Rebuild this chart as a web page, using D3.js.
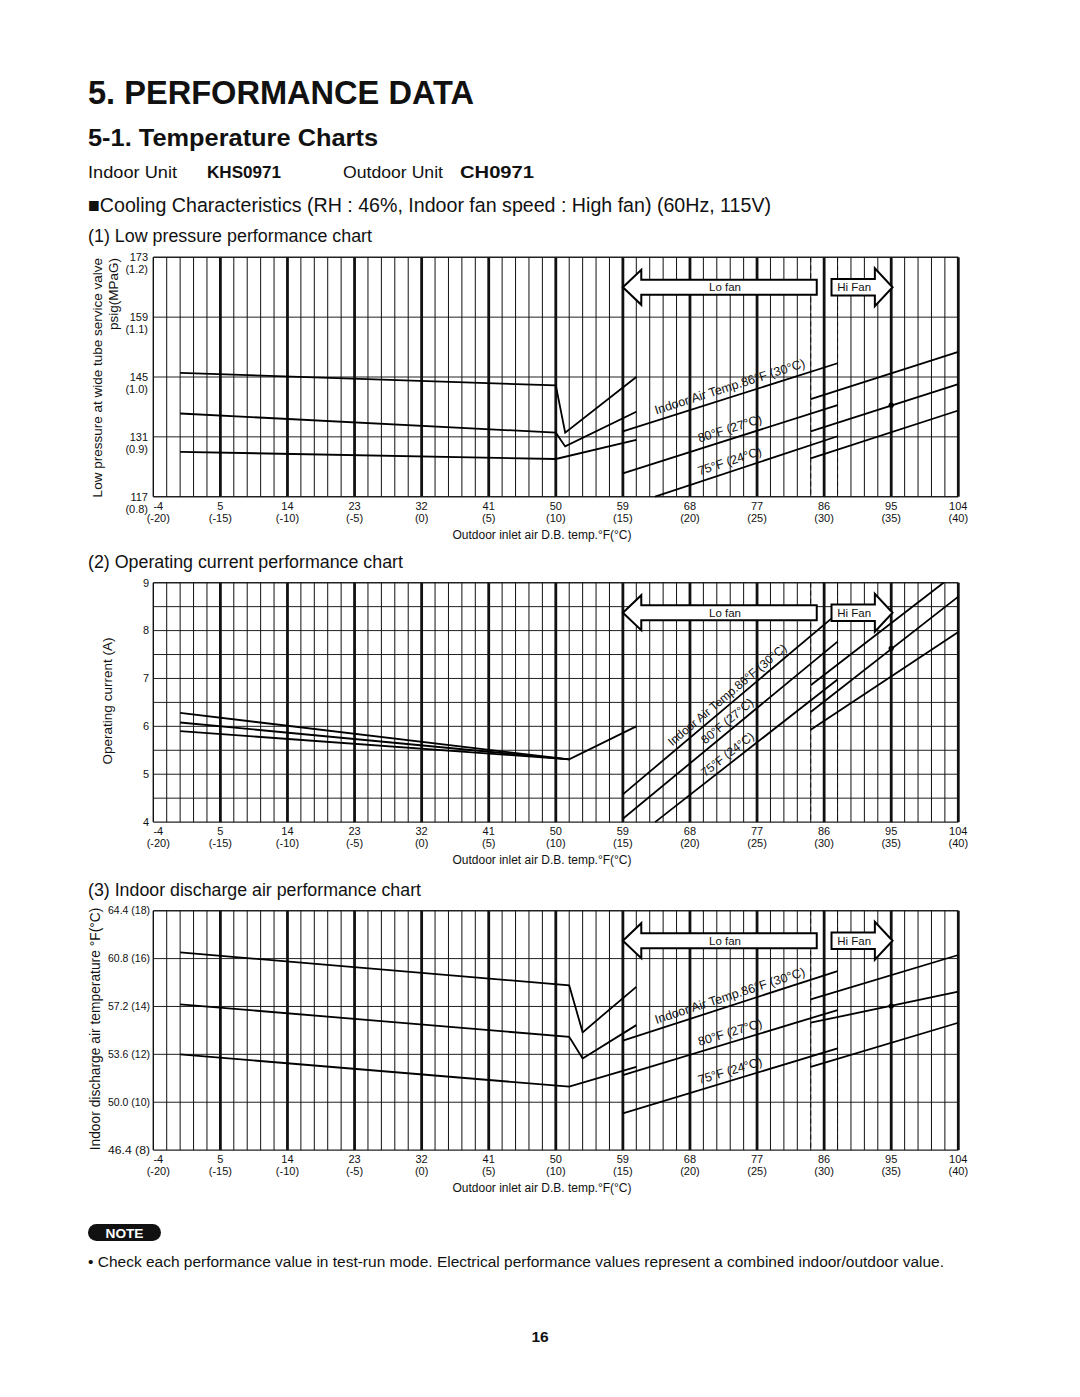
<!DOCTYPE html>
<html lang="en">
<head>
<meta charset="utf-8">
<title>Performance Data</title>
<script src="https://cdn.jsdelivr.net/npm/d3@7"></script>
<style>
  body { margin: 0; background: #fff; }
  svg text { font-family: "Liberation Sans", Arial, Helvetica, sans-serif; fill: #111; }
</style>
</head>
<body>
<div id="page"></div>
<script>
// ---- shared x axis: outdoor inlet air temp, grid in degC ----
const xTicksF = [-4, 5, 14, 23, 32, 41, 50, 59, 68, 77, 86, 95, 104];
const xTicksC = [-20, -15, -10, -5, 0, 5, 10, 15, 20, 25, 30, 35, 40];
const lineNames = ["Indoor Air Temp.86°F (30°C)", "80°F (27°C)", "75°F (24°C)"];

// ---- (1) low pressure, MPa ----
const lpTicks = [0.8, 0.9, 1.0, 1.1, 1.2];
const lpPsig = ["117", "131", "145", "159", "173"];
const lpLeft86 = [[-18, 1.007], [10, 0.986], [10.7, 0.907], [16, 1.0]];
const lpLeft80 = [[-18, 0.939], [10, 0.907], [10.7, 0.884], [16, 0.942]];
const lpLeft75 = [[-18, 0.875], [10, 0.863], [16, 0.895]];
const lpLo86 = [[15, 0.909], [31, 1.023]];
const lpLo80 = [[15, 0.839], [31, 0.953]];
const lpLo75 = [[17.4, 0.8], [31, 0.901]];
const lpHi86 = [[29, 0.963], [40, 1.042]];
const lpHi80 = [[29, 0.909], [40, 0.988]];
const lpHi75 = [[29, 0.864], [40, 0.944]];
const lpRated = [35, 0.953];

// ---- (2) operating current, A ----
const ocTicks = [4, 5, 6, 7, 8, 9];
const ocLeft86 = [[-18, 6.28], [11, 5.31], [16, 6.0]];
const ocLeft80 = [[-18, 6.08], [11, 5.31]];
const ocLeft75 = [[-18, 5.90], [11, 5.31]];
const ocLo86 = [[15, 4.58], [31, 8.36]];
const ocLo80 = [[15, 4.07], [31, 7.77]];
const ocLo75 = [[17.4, 4.0], [31, 6.98]];
const ocHi86 = [[29, 6.86], [38.9, 9.0]];
const ocHi80 = [[29, 6.30], [40, 8.71]];
const ocHi75 = [[29, 5.93], [40, 7.97]];
const ocRated = [35, 7.63];

// ---- (3) indoor discharge air, degC ----
const daTicks = [8, 10, 12, 14, 16, 18];
const daTicksF = ["46.4", "50.0", "53.6", "57.2", "60.8", "64.4"];
const daLeft86 = [[-18, 16.26], [11, 14.88], [12, 12.92], [16, 14.82]];
const daLeft80 = [[-18, 14.09], [11, 12.73], [12, 11.83], [16, 13.22]];
const daLeft75 = [[-18, 12.0], [11, 10.65], [16, 11.48]];
const daLo86 = [[15, 12.57], [31, 15.48]];
const daLo80 = [[15, 11.13], [31, 13.85]];
const daLo75 = [[15, 9.53], [31, 12.25]];
const daHi86 = [[29, 14.30], [40, 16.15]];
const daHi80 = [[29, 13.32], [40, 14.62]];
const daHi75 = [[29, 11.48], [40, 13.32]];
const daRated = [35, 14.02];

const svg = d3.select("#page").append("svg")
  .attr("width", 1080).attr("height", 1397);

// page headings
function txt(x, y, s, size, opts) {
  opts = opts || {};
  const t = svg.append("text").attr("x", x).attr("y", y)
    .attr("font-size", size).text(s);
  if (opts.bold) t.attr("font-weight", "bold");
  if (opts.len) t.attr("textLength", opts.len).attr("lengthAdjust", "spacingAndGlyphs");
  if (opts.anchor) t.attr("text-anchor", opts.anchor);
  return t;
}
txt(88, 104, "5.  PERFORMANCE DATA", 33, {bold: true, len: 386});
txt(88, 146, "5-1.  Temperature Charts", 24.5, {bold: true, len: 290});
txt(88, 178, "Indoor Unit", 17, {len: 89});
txt(207, 178, "KHS0971", 16.5, {bold: true, len: 74});
txt(343, 178, "Outdoor Unit", 17, {len: 100});
txt(460, 178, "CH0971", 16.5, {bold: true, len: 74});
txt(88, 212, "■Cooling Characteristics (RH : 46%, Indoor fan speed : High fan) (60Hz, 115V)", 20.5, {len: 683});

const x = d3.scaleLinear().domain([-20, 40]).range([153.3, 958.3]);
const PH = 239.4;

function drawChart(cfg) {
  const top = cfg.top, bottom = top + PH;
  const y = d3.scaleLinear().domain(cfg.yDomain).range([bottom, top]);
  const g = svg.append("g");

  txt(88, cfg.titleY, cfg.title, 17.5, {len: cfg.titleLen});

  // horizontal grid
  const hs = d3.range(cfg.yDomain[0], cfg.yDomain[1] + 1e-6, cfg.yStep);
  g.selectAll("line.h").data(hs).enter().append("line")
    .attr("x1", x(-20)).attr("x2", x(40))
    .attr("y1", d => y(d)).attr("y2", d => y(d))
    .attr("stroke", "#222")
    .attr("stroke-width", (d, i) => (i === 0 || i === hs.length - 1) ? 1.4 : 1);

  // vertical grid, 1 degC
  g.selectAll("line.v").data(d3.range(-20, 41)).enter().append("line")
    .attr("x1", d => x(d)).attr("x2", d => x(d))
    .attr("y1", top).attr("y2", bottom)
    .attr("stroke", "#111")
    .attr("stroke-width", d => d === -20 ? 1.4 : (d % 5 === 0 ? 2.8 : 1));

  // lo/hi fan switch band
  g.selectAll("line.d").data([29, 31]).enter().append("line")
    .attr("x1", d => x(d)).attr("x2", d => x(d))
    .attr("y1", top).attr("y2", bottom)
    .attr("stroke", "#111").attr("stroke-width", 1)
    .attr("stroke-dasharray", "5,3");

  // x tick labels
  g.selectAll("text.xf").data(xTicksF).enter().append("text")
    .attr("x", (d, i) => x(xTicksC[i]) + (i === 0 ? 5 : 0))
    .attr("y", bottom + 13).attr("text-anchor", "middle")
    .attr("font-size", 11).text(d => d);
  g.selectAll("text.xc").data(xTicksC).enter().append("text")
    .attr("x", (d, i) => x(d) + (i === 0 ? 5 : 0))
    .attr("y", bottom + 25).attr("text-anchor", "middle")
    .attr("font-size", 11).text(d => "(" + d + ")");
  g.append("text").attr("x", 542).attr("y", bottom + 42)
    .attr("text-anchor", "middle").attr("font-size", 12)
    .text("Outdoor inlet air D.B. temp.°F(°C)");

  cfg.yLabels(g, y);

  // curves
  const line = d3.line().x(d => x(d[0])).y(d => y(d[1]));
  g.selectAll("path.s").data(cfg.series).enter().append("path")
    .attr("d", line).attr("fill", "none")
    .attr("stroke", "#000").attr("stroke-width", 1.8)
    .attr("stroke-linejoin", "miter");
  g.append("circle").attr("cx", x(cfg.rated[0])).attr("cy", y(cfg.rated[1]))
    .attr("r", 2.6).attr("fill", "#000");

  // line names along the Lo fan lines
  cfg.loLines.forEach((ln, i) => {
    const a = ln[0], b = ln[ln.length - 1];
    const px = x(23.2);
    const t = (23.2 - a[0]) / (b[0] - a[0]);
    const py = y(a[1] + t * (b[1] - a[1]));
    const ang = Math.atan2(y(b[1]) - y(a[1]), x(b[0]) - x(a[0]));
    const d = cfg.labelOff;
    const cx = px + Math.sin(ang) * d, cy = py - Math.cos(ang) * d;
    g.append("text")
      .attr("transform", `translate(${cx},${cy}) rotate(${ang * 180 / Math.PI})`)
      .attr("text-anchor", "middle").attr("dy", "0.35em")
      .attr("font-size", cfg.labelSize).text(lineNames[i]);
  });

  // Lo fan / Hi Fan arrows
  const cy = top + 30;
  const lt = x(15), lh = lt + 18.4, lb = x(29.45);
  g.append("path")
    .attr("d", `M${lt},${cy} L${lh},${cy - 17.5} L${lh},${cy - 7.5} L${lb},${cy - 7.5} L${lb},${cy + 7.5} L${lh},${cy + 7.5} L${lh},${cy + 17.5} Z`)
    .attr("fill", "#fff").attr("stroke", "#000").attr("stroke-width", 2)
    .attr("stroke-linejoin", "miter");
  g.append("text").attr("x", (lh + lb) / 2 - 4).attr("y", cy).attr("dy", "0.35em")
    .attr("text-anchor", "middle").attr("font-size", 11.5).text("Lo fan");
  const hl = x(30.55), ht = x(35.1), hh = ht - 17.7;
  g.append("path")
    .attr("d", `M${hl},${cy - 8.3} L${hh},${cy - 8.3} L${hh},${cy - 19} L${ht},${cy} L${hh},${cy + 19} L${hh},${cy + 8.3} L${hl},${cy + 8.3} Z`)
    .attr("fill", "#fff").attr("stroke", "#000").attr("stroke-width", 2)
    .attr("stroke-linejoin", "miter");
  g.append("text").attr("x", (hl + hh) / 2 + 1).attr("y", cy).attr("dy", "0.35em")
    .attr("text-anchor", "middle").attr("font-size", 11.5).text("Hi Fan");
}

// (1) low pressure
drawChart({
  top: 257.3, yDomain: [0.8, 1.2], yStep: 0.1,
  title: "(1) Low pressure performance chart", titleY: 242, titleLen: 284,
  series: [lpLeft86, lpLeft80, lpLeft75, lpLo86, lpLo80, lpLo75, lpHi86, lpHi80, lpHi75],
  loLines: [lpLo86, lpLo80, lpLo75], rated: lpRated, labelOff: 10.5, labelSize: 12.5,
  yLabels: (g, y) => {
    g.selectAll("text.yp").data(lpTicks).enter().append("text")
      .attr("x", 148).attr("y", d => y(d) + 4).attr("text-anchor", "end")
      .attr("font-size", 11).text((d, i) => lpPsig[i]);
    g.selectAll("text.ym").data(lpTicks).enter().append("text")
      .attr("x", 148).attr("y", d => y(d) + 16).attr("text-anchor", "end")
      .attr("font-size", 11).text(d => "(" + d.toFixed(1) + ")");
    g.append("text").attr("transform", "translate(101.5,258) rotate(-90)")
      .attr("text-anchor", "end").attr("font-size", 13.5)
      .text("Low pressure at wide tube service valve");
    g.append("text").attr("transform", "translate(118,258) rotate(-90)")
      .attr("text-anchor", "end").attr("font-size", 13.5)
      .text("psig(MPaG)");
  }
});

// (2) operating current
drawChart({
  top: 582.7, yDomain: [4, 9], yStep: 0.5,
  title: "(2) Operating current performance chart", titleY: 568, titleLen: 315,
  series: [ocLeft86, ocLeft80, ocLeft75, ocLo86, ocLo80, ocLo75, ocHi86, ocHi80, ocHi75],
  loLines: [ocLo86, ocLo80, ocLo75], rated: ocRated, labelOff: 9, labelSize: 12,
  yLabels: (g, y) => {
    g.selectAll("text.y").data(ocTicks).enter().append("text")
      .attr("x", 149).attr("y", d => y(d)).attr("dy", "0.35em")
      .attr("text-anchor", "end").attr("font-size", 11).text(d => d);
    g.append("text").attr("transform", "translate(107,701) rotate(-90)")
      .attr("text-anchor", "middle").attr("dy", "0.35em").attr("font-size", 13.5)
      .text("Operating current (A)");
  }
});

// (3) indoor discharge air
drawChart({
  top: 910.7, yDomain: [8, 18], yStep: 2,
  title: "(3) Indoor discharge air performance chart", titleY: 896, titleLen: 333,
  series: [daLeft86, daLeft80, daLeft75, daLo86, daLo80, daLo75, daHi86, daHi80, daHi75],
  loLines: [daLo86, daLo80, daLo75], rated: daRated, labelOff: 10, labelSize: 12.5,
  yLabels: (g, y) => {
    g.selectAll("text.y").data(daTicks).enter().append("text")
      .attr("x", 150).attr("y", d => y(d)).attr("dy", "0.35em")
      .attr("text-anchor", "end").attr("font-size", 10.5)
      .attr("textLength", 42).attr("lengthAdjust", "spacingAndGlyphs")
      .text((d, i) => daTicksF[i] + " (" + d + ")");
    g.append("text").attr("transform", "translate(95,1029) rotate(-90)")
      .attr("text-anchor", "middle").attr("dy", "0.35em").attr("font-size", 13.8)
      .text("Indoor discharge air temperature °F(°C)");
  }
});

// note + page number
svg.append("rect").attr("x", 88).attr("y", 1224).attr("width", 73).attr("height", 17)
  .attr("rx", 8.5).attr("fill", "#111");
svg.append("text").attr("x", 124.5).attr("y", 1237.5).attr("text-anchor", "middle")
  .attr("font-size", 13).attr("font-weight", "bold").style("fill", "#fff")
  .attr("textLength", 38).attr("lengthAdjust", "spacingAndGlyphs").text("NOTE");
txt(88, 1267, "• Check each performance value in test-run mode. Electrical performance values represent a combined indoor/outdoor value.", 14, {len: 856});
txt(540, 1342, "16", 15.5, {bold: true, anchor: "middle"});
</script>
</body>
</html>
